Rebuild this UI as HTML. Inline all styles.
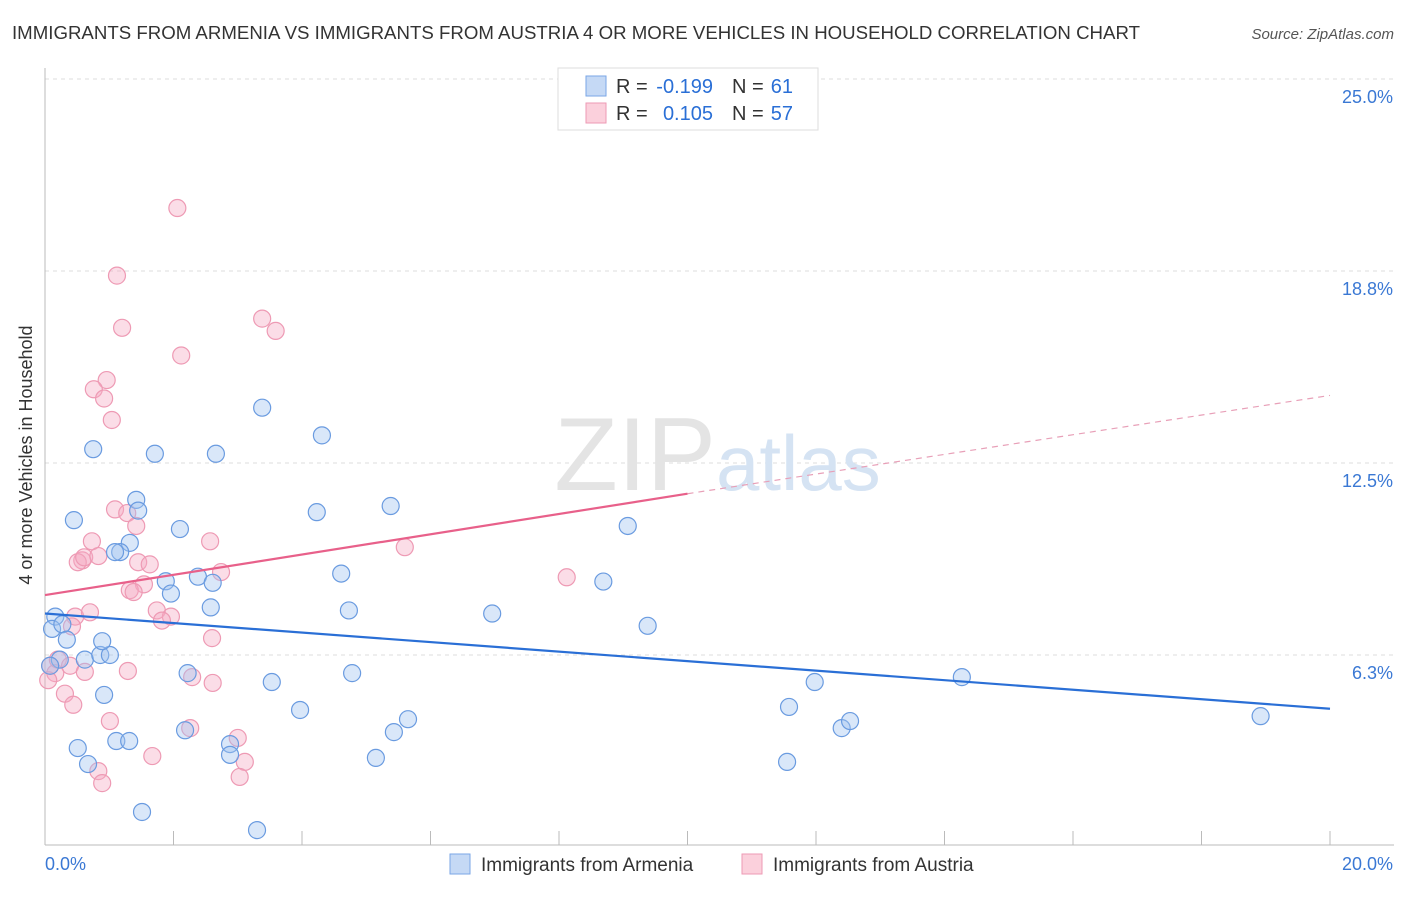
<!DOCTYPE html>
<html><head><meta charset="utf-8"><style>
body{margin:0;background:#fff;font-family:"Liberation Sans",sans-serif;}
svg text{font-family:"Liberation Sans",sans-serif;}
</style></head><body>
<svg id="chart" width="1406" height="892" xmlns="http://www.w3.org/2000/svg">
<text x="12" y="39" font-size="18" fill="#333" textLength="1128" lengthAdjust="spacingAndGlyphs">IMMIGRANTS FROM ARMENIA VS IMMIGRANTS FROM AUSTRIA 4 OR MORE VEHICLES IN HOUSEHOLD CORRELATION CHART</text>
<text x="1394" y="39" font-size="15" fill="#555" font-style="italic" text-anchor="end">Source: ZipAtlas.com</text>
<g id="grid"></g>
<text x="716" y="490" font-size="104" fill="#e4e4e4" text-anchor="end" font-family="Liberation Serif">ZIP</text>
<text x="716" y="490" font-size="78" fill="#d5e3f3">atlas</text>
<g id="marks"></g>
<g>
<rect x="558" y="68" width="260" height="62" fill="#fff" stroke="#ddd"/>
<rect x="586" y="76" width="20" height="20" fill="#c5d9f5" stroke="#7aa6e6"/>
<rect x="586" y="103" width="20" height="20" fill="#fbd0dc" stroke="#ee9ab4"/>
<text x="616" y="93" font-size="20" fill="#333">R =</text>
<text x="713" y="93" font-size="20" fill="#2a6fd6" text-anchor="end">-0.199</text>
<text x="732" y="93" font-size="20" fill="#333">N =</text>
<text x="793" y="93" font-size="20" fill="#2a6fd6" text-anchor="end">61</text>
<text x="616" y="120" font-size="20" fill="#333">R =</text>
<text x="713" y="120" font-size="20" fill="#2a6fd6" text-anchor="end">0.105</text>
<text x="732" y="120" font-size="20" fill="#333">N =</text>
<text x="793" y="120" font-size="20" fill="#2a6fd6" text-anchor="end">57</text>
</g>
<text x="32" y="455" font-size="18" fill="#333" transform="rotate(-90 32 455)" text-anchor="middle">4 or more Vehicles in Household</text>
<g>
<rect x="450" y="854" width="20" height="20" fill="#c5d9f5" stroke="#7aa6e6"/>
<text x="481" y="871" font-size="19" fill="#333">Immigrants from Armenia</text>
<rect x="742" y="854" width="20" height="20" fill="#fbd0dc" stroke="#ee9ab4"/>
<text x="773" y="871" font-size="19" fill="#333">Immigrants from Austria</text>
</g>
</svg>
<script>
const yTicks=[25,18.75,12.5,6.25];
const yTickLabels=["25.0%","18.8%","12.5%","6.3%"];
const xTicks=[0,2,4,6,8,10,12,14,16,18,20];
const armeniaX=[0.16,0.11,0.27,0.34,0.23,0.62,0.86,1.01,0.89,0.75,0.45,1.42,1.45,1.32,1.17,1.09,1.71,2.1,1.88,1.96,2.38,2.61,2.58,2.66,3.38,4.31,4.23,4.61,4.73,5.38,2.22,0.92,0.51,0.67,1.11,1.31,1.51,2.18,2.88,2.88,3.3,3.53,3.97,4.78,5.15,5.43,5.65,6.96,8.69,9.07,9.38,11.58,11.55,11.98,12.4,12.53,14.27,18.92,0.08];
const armeniaY=[7.5,7.1,7.25,6.75,6.1,6.1,6.25,6.25,6.7,12.95,10.64,11.3,10.95,9.9,9.6,9.6,12.8,10.35,8.65,8.25,8.8,8.6,7.8,12.8,14.3,13.4,10.9,8.9,7.7,11.1,5.66,4.95,3.22,2.7,3.45,3.45,1.14,3.8,3.35,3.0,0.55,5.37,4.46,5.66,2.9,3.74,4.16,7.6,8.64,10.45,7.2,4.56,2.77,5.37,3.87,4.1,5.53,4.26,5.9];
const austriaX=[2.06,1.12,1.2,2.12,3.38,3.59,0.96,0.76,0.92,1.04,1.09,1.28,1.42,0.73,0.58,0.51,0.61,0.83,1.45,1.63,2.57,2.74,1.54,1.32,1.38,1.74,1.96,1.82,0.47,0.7,0.42,2.6,1.29,2.29,2.61,0.31,0.44,1.01,1.67,0.83,0.89,2.26,3.0,3.11,3.03,5.6,8.12,0.08,0.16,0.05,0.2,0.39,0.62];
const austriaY=[20.8,18.6,16.9,16.0,17.2,16.8,15.2,14.9,14.6,13.9,10.99,10.87,10.45,9.95,9.33,9.27,9.43,9.47,9.27,9.2,9.95,8.95,8.55,8.36,8.3,7.7,7.5,7.37,7.5,7.64,7.18,6.8,5.73,5.53,5.34,4.99,4.63,4.1,2.96,2.47,2.08,3.87,3.55,2.77,2.28,9.76,8.78,5.9,5.66,5.43,6.1,5.9,5.7];
const blueTrend=[[0,7.6],[20,4.5]];
const pinkTrend=[[0,8.2],[10,11.5],[20,14.7]];
const X=v=>45+v/20*1285, Y=v=>847-v*30.72;
const ns="http://www.w3.org/2000/svg";
function mk(tag,attrs,parent){const e=document.createElementNS(ns,tag);for(const k in attrs)e.setAttribute(k,attrs[k]);parent.appendChild(e);return e;}
const grid=document.getElementById('grid');
yTicks.forEach((t,i)=>{
 const l=mk('line',{x1:45,x2:1394,y1:Y(t),y2:Y(t),stroke:'#ddd','stroke-dasharray':'4,4'},grid);
 
 
 const tx=mk('text',{x:1393,y:Y(t)+24,'font-size':18,fill:'#3a78d4','text-anchor':'end'},grid);
 tx.textContent=yTickLabels[i];
 
 
});
const ax=mk('line',{x1:45,x2:1394,y1:845,y2:845,stroke:'#bbb'},grid);


const ay=mk('line',{x1:45,x2:45,y1:68,y2:845,stroke:'#bbb'},grid);


xTicks.forEach(t=>{const l=mk('line',{x1:X(t),x2:X(t),y1:831,y2:845,stroke:'#bbb'},grid);
 
 });
const xl0=mk('text',{x:45,y:870,'font-size':18,fill:'#3a78d4'},grid);xl0.textContent='0.0%';


const xl1=mk('text',{x:1393,y:870,'font-size':18,fill:'#3a78d4','text-anchor':'end'},grid);xl1.textContent='20.0%';


const marks=document.getElementById('marks');
austriaX.forEach((x,i)=>{const c=mk('circle',{cx:X(x),cy:Y(austriaY[i]),r:8.5,fill:'rgba(246,170,195,0.4)',stroke:'#ee9ab4','stroke-width':1.2},marks);
 
 });
armeniaX.forEach((x,i)=>{const c=mk('circle',{cx:X(x),cy:Y(armeniaY[i]),r:8.5,fill:'rgba(160,195,240,0.4)',stroke:'#6a9be0','stroke-width':1.2},marks);
 
 });
const bt=mk('line',{x1:X(blueTrend[0][0]),y1:Y(blueTrend[0][1]),x2:X(blueTrend[1][0]),y2:Y(blueTrend[1][1]),stroke:'#2a6fd6','stroke-width':2.2},marks);


const pt=mk('line',{x1:X(pinkTrend[0][0]),y1:Y(pinkTrend[0][1]),x2:X(pinkTrend[1][0]),y2:Y(pinkTrend[1][1]),stroke:'#e8608a','stroke-width':2.2},marks);


const pd=mk('line',{x1:X(pinkTrend[1][0]),y1:Y(pinkTrend[1][1]),x2:X(pinkTrend[2][0]),y2:Y(pinkTrend[2][1]),stroke:'#e8a0b8','stroke-width':1.2,'stroke-dasharray':'6,5'},marks);


</script>
</body></html>
